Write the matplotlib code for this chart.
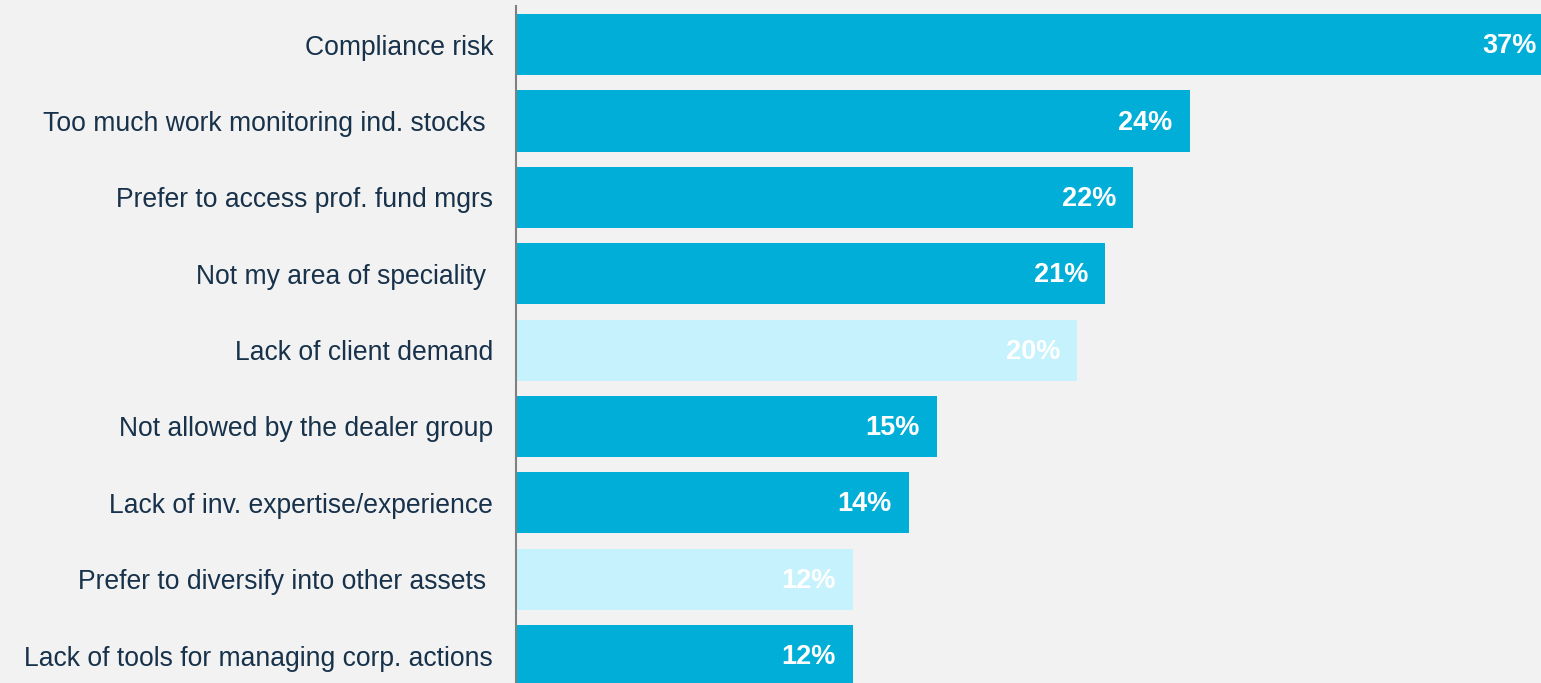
import matplotlib.pyplot as plt

# Survey answers, top to bottom
reasons = [
    "Compliance risk",
    "Too much work monitoring ind. stocks ",
    "Prefer to access prof. fund mgrs",
    "Not my area of speciality ",
    "Lack of client demand",
    "Not allowed by the dealer group",
    "Lack of inv. expertise/experience",
    "Prefer to diversify into other assets ",
    "Lack of tools for managing corp. actions",
]
share = [37, 24, 22, 21, 20, 15, 14, 12, 12]
highlight = [False, False, False, False, True, False, False, True, False]

dark_blue = "#00aed8"
light_blue = "#c5f2fd"
bg = "#f2f2f2"
text_col = "#17324a"

plt.rcParams["font.family"] = ["Liberation Sans", "DejaVu Sans"]

fig = plt.figure(figsize=(15.41, 6.83), dpi=100, facecolor=bg)
ax = fig.add_axes([516 / 1541, 0, 1 - 516 / 1541, 1 - 6.5 / 683])
ax.set_facecolor(bg)

colors = [light_blue if h else dark_blue for h in highlight]
ypos = list(range(len(reasons)))
bars = ax.barh(ypos, share, height=0.8, color=colors)

for b, v in zip(bars, share):
    ax.annotate(f"{v}%", xy=(v, b.get_y() + b.get_height() / 2),
                xytext=(-12.5, -1.2), textcoords="offset points",
                ha="right", va="center", color="white",
                fontsize=19.5, fontweight="bold", annotation_clip=False)

ax.set_xlim(0, 36.52)
ax.set_ylim(8.36, -0.5)
ax.set_yticks(ypos)
ax.set_yticklabels(reasons, fontsize=19.1, color=text_col)
ax.tick_params(axis="y", length=0, pad=16.5)
ax.set_xticks([])

for side in ["top", "right", "bottom"]:
    ax.spines[side].set_visible(False)
ax.spines["left"].set_color("#808080")
ax.spines["left"].set_linewidth(1.5)

fig.savefig("out.png", dpi=100, facecolor=bg)
